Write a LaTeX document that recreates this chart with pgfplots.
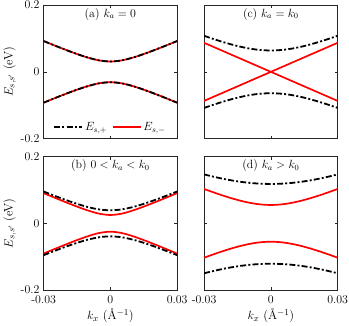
\documentclass[border=0pt]{standalone}
\usepackage{pgfplots}
\usepackage{pgfplotstable}
\pgfplotsset{compat=1.18}
\usepgfplotslibrary{groupplots}

\pgfplotstableread{
k       a       bp      bm      c       dp      dm
-0.030  0.09236 0.09534 0.09052 0.10800 0.14660 0.10293
-0.025  0.07885 0.08232 0.07669 0.09671 0.13849 0.09100
-0.020  0.06576 0.06989 0.06316 0.08637 0.13148 0.07993
-0.015  0.05342 0.05842 0.05017 0.07738 0.12576 0.07012
-0.010  0.04245 0.04860 0.03829 0.07026 0.12151 0.06218
-0.005  0.03422 0.04161 0.02890 0.06562 0.11889 0.05688
 0.000  0.03100 0.03900 0.02500 0.06400 0.11800 0.05500
 0.005  0.03422 0.04161 0.02890 0.06562 0.11889 0.05688
 0.010  0.04245 0.04860 0.03829 0.07026 0.12151 0.06218
 0.015  0.05342 0.05842 0.05017 0.07738 0.12576 0.07012
 0.020  0.06576 0.06989 0.06316 0.08637 0.13148 0.07993
 0.025  0.07885 0.08232 0.07669 0.09671 0.13849 0.09100
 0.030  0.09236 0.09534 0.09052 0.10800 0.14660 0.10293
}\bands

\definecolor{axgray}{gray}{0.15}
\tikzset{
  plus/.style={black, line width=1.8pt, dash pattern=on 6pt off 2.2pt on 2pt off 2.2pt},
  minus/.style={red, line width=1.7pt},
}

\begin{document}
\begin{tikzpicture}
\begin{groupplot}[
  group style={group size=2 by 2, horizontal sep=27bp, vertical sep=18bp},
  scale only axis, width=134bp, height=134bp,
  xmin=-0.03, xmax=0.03, ymin=-0.2, ymax=0.2,
  xtick={-0.03,0,0.03}, ytick={-0.2,0,0.2},
  scaled x ticks=false, scaled y ticks=false,
  axis line style={axgray, line width=0.9pt},
  tick style={axgray, line width=0.6pt},
  major tick length=3pt,
  tick align=inside,
  ticklabel style={font=\fontsize{12}{12}\selectfont, inner sep=1pt},
  xticklabel style={yshift=-4.5pt},
  yticklabel style={xshift=-3pt},
  label style={font=\fontsize{12.5}{12.5}\selectfont},
  every axis plot/.append style={smooth},
]

\nextgroupplot[xticklabels={}, yticklabels={-0.2,0,0.2},
  ylabel={$E_{s,s'}$ (eV)},
  legend style={at={(0.5,0.02)}, anchor=south, draw=none, fill=none,
    font=\fontsize{12}{12}\selectfont, legend columns=2,
    /tikz/every even column/.append style={column sep=3pt}},
  legend image code/.code={\draw[#1] (0pt,0pt) -- (28pt,0pt);}]
\addlegendimage{plus}
\addlegendentry{$E_{s,+}$}
\addlegendimage{minus}
\addlegendentry{$E_{s,-}$}
\addplot[minus, forget plot] table[x=k, y=a] {\bands};
\addplot[minus, forget plot] table[x=k, y expr=-\thisrow{a}] {\bands};
\addplot[plus, forget plot] table[x=k, y=a] {\bands};
\addplot[plus, forget plot] table[x=k, y expr=-\thisrow{a}] {\bands};
\node[anchor=north, inner sep=1pt, font=\fontsize{12}{12}\selectfont] at (rel axis cs:0.5,0.985) {(a) $k_a=0$};

\nextgroupplot[xticklabels={}, yticklabels={}]
\addplot[plus] table[x=k, y=c] {\bands};
\addplot[plus] table[x=k, y expr=-\thisrow{c}] {\bands};
\addplot[minus, sharp plot] coordinates {(-0.03,-0.087) (0.03,0.087)};
\addplot[minus, sharp plot] coordinates {(-0.03,0.087) (0.03,-0.087)};
\node[anchor=north, inner sep=1pt, font=\fontsize{12}{12}\selectfont] at (rel axis cs:0.5,0.985) {(c) $k_a=k_0$};

\nextgroupplot[xticklabels={-0.03,0,0.03}, yticklabels={-0.2,0,0.2},
  ylabel={$E_{s,s'}$ (eV)}, xlabel={$k_x$ (\AA$^{-1}$)}]
\addplot[minus] table[x=k, y=bm] {\bands};
\addplot[minus] table[x=k, y expr=-\thisrow{bm}] {\bands};
\addplot[plus] table[x=k, y=bp] {\bands};
\addplot[plus] table[x=k, y expr=-\thisrow{bp}] {\bands};
\node[anchor=north, inner sep=1pt, font=\fontsize{12}{12}\selectfont] at (rel axis cs:0.5,0.985) {(b) $0<k_a<k_0$};

\nextgroupplot[xticklabels={-0.03,0,0.03}, yticklabels={},
  xlabel={$k_x$ (\AA$^{-1}$)}]
\addplot[minus] table[x=k, y=dm] {\bands};
\addplot[minus] table[x=k, y expr=-\thisrow{dm}] {\bands};
\addplot[plus] table[x=k, y=dp] {\bands};
\addplot[plus] table[x=k, y expr=-\thisrow{dp}-0.003] {\bands};
\node[anchor=north, inner sep=1pt, font=\fontsize{12}{12}\selectfont] at (rel axis cs:0.5,0.985) {(d) $k_a>k_0$};
\end{groupplot}
\end{tikzpicture}
\end{document}
